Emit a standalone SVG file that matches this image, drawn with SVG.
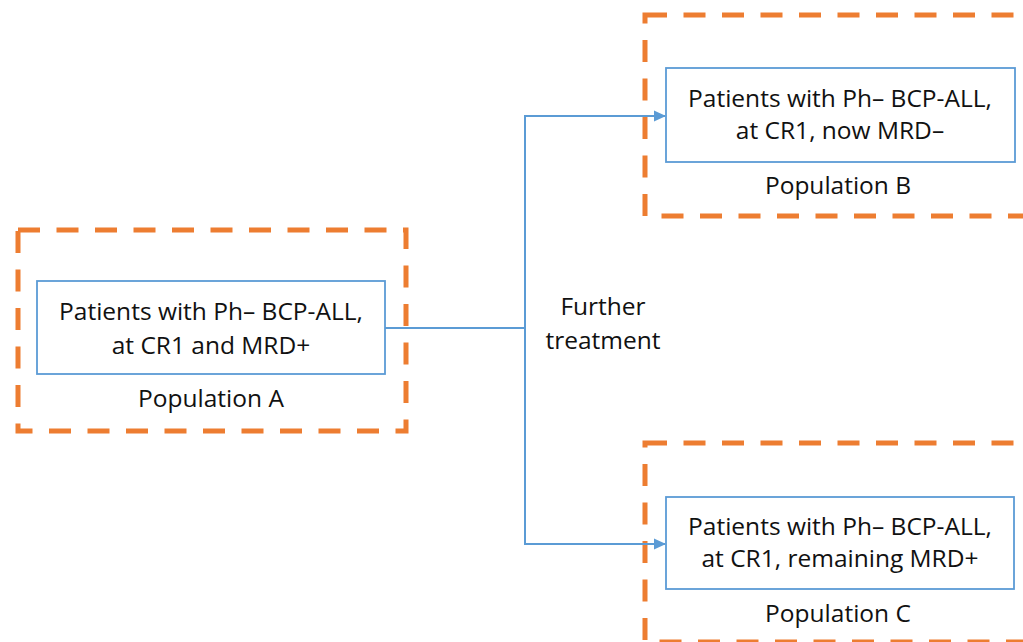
<svg xmlns="http://www.w3.org/2000/svg" width="1023" height="642" viewBox="0 0 1023 642">
<defs>
<style>
.pop{fill:none;stroke:#ED7D31;stroke-width:5;stroke-dasharray:22 16.5}
.box{fill:#fff;stroke:#5B9BD5;stroke-width:1.8}
.t{font-family:"Open Sans","Liberation Sans",sans-serif;font-size:24.5px;fill:#111;text-anchor:middle}
.con{fill:none;stroke:#5B9BD5;stroke-width:2}
</style>
<marker id="arr" markerWidth="12" markerHeight="12" refX="11" refY="6" orient="auto" markerUnits="userSpaceOnUse">
<path d="M0,0.5 L12,6 L0,11.5 Z" fill="#5B9BD5"/>
</marker>
</defs>
<rect width="1023" height="642" fill="#fff"/>
<g id="popA">
<rect class="pop" x="18" y="230" width="388" height="201"/>
</g>
<g id="popB">
<rect class="pop" x="645" y="15" width="400" height="201"/>
</g>
<g id="popC">
<rect class="pop" x="645" y="443" width="400" height="199"/>
</g>
<g id="connectors">
<path class="con" d="M385,328 H525 V116 H665" marker-end="url(#arr)"/>
<path class="con" d="M525,328 V544 H665" marker-end="url(#arr)"/>
</g>
<g id="nodeA">
<rect class="box" x="37" y="281" width="348" height="93"/>
<text class="t" x="211" y="320">Patients with Ph– BCP-ALL,</text>
<text class="t" x="211" y="354">at CR1 and MRD+</text>
<text class="t" x="211" y="407">Population A</text>
</g>
<g id="nodeB">
<rect class="box" x="666" y="68" width="349" height="94"/>
<text class="t" x="840" y="107">Patients with Ph– BCP-ALL,</text>
<text class="t" x="840" y="139">at CR1, now MRD–</text>
<text class="t" x="838" y="194">Population B</text>
</g>
<g id="nodeC">
<rect class="box" x="666" y="497" width="348" height="92"/>
<text class="t" x="840" y="535">Patients with Ph– BCP-ALL,</text>
<text class="t" x="840" y="567">at CR1, remaining MRD+</text>
<text class="t" x="838" y="622">Population C</text>
</g>
<g id="label">
<text class="t" x="603" y="315">Further</text>
<text class="t" x="603" y="349">treatment</text>
</g>
</svg>
